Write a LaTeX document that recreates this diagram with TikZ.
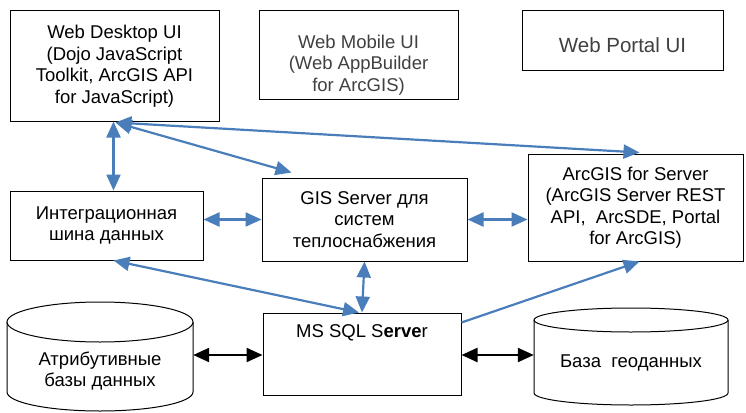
\documentclass[tikz,border=0pt]{standalone}
\usepackage{fontspec}
\setmainfont{Liberation Sans}
\usetikzlibrary{arrows.meta}
\definecolor{lineblue}{RGB}{74,126,187}
\definecolor{softtext}{RGB}{64,64,64}
\tikzset{
  box/.style={draw=black, line width=1pt, inner sep=0pt, align=center},
  txt/.style={inner sep=0pt, align=center},
  barr/.style={draw=lineblue, line width=2.2pt, {Triangle[length=16pt,width=14pt]}-{Triangle[length=16pt,width=14pt]}},
  barrone/.style={draw=lineblue, line width=2.2pt, -{Triangle[length=16pt,width=14pt]}},
  karr/.style={draw=black, line width=2.2pt, {Triangle[length=16pt,width=14pt]}-{Triangle[length=16pt,width=14pt]}},
  cyl/.style={draw=black, line width=1pt}
}
\begin{document}
\begin{tikzpicture}[x=1pt,y=1pt,font=\fontsize{18.5}{21.5}\selectfont]
\useasboundingbox (0,0) rectangle (746,-412);
% top row
\node[box, minimum width=209pt, minimum height=110pt] (desk) at (114.5,-66)
  {Web Desktop UI\\(Dojo JavaScript\\Toolkit, ArcGIS API\\for JavaScript)};
\node[box, minimum width=199pt, minimum height=88pt] (mob) at (358.5,-55) {};
\node[txt, text=softtext] (mobT) at (358.5,-65) {Web Mobile UI\\(Web AppBuilder\\for ArcGIS)};
\node[box, minimum width=201pt, minimum height=59pt] (port) at (622.5,-40.5) {};
\node[txt, text=softtext, font=\fontsize{20.5}{24}\selectfont] (portT) at (622.5,-45) {Web Portal UI};
% middle row
\node[box, minimum width=193pt, minimum height=69pt] (integ) at (106.5,-225.5)
  {Интеграционная\\шина данных};
\node[box, minimum width=205pt, minimum height=83pt] (gis) at (364.5,-219.5)
  {GIS Server для\\систем\\теплоснабжения};
\node[box, minimum width=215pt, minimum height=107pt] (arc) at (635.5,-207.5)
  {ArcGIS for Server\\(ArcGIS Server REST\\API,\ \ ArcSDE, Portal\\for ArcGIS)};
% bottom row
\node[box, minimum width=198pt, minimum height=82pt] (sql) at (362,-354) {};
\node[txt] (sqlT) at (362,-333) {MS SQL S\textbf{erve}r};
% left cylinder
\draw[cyl] (7,-322) -- (7,-392) arc[start angle=180, end angle=360, x radius=93, y radius=19] -- (193,-322);
\draw[cyl] (100,-322) ellipse[x radius=93, y radius=20];
\node[txt, minimum width=186pt, minimum height=60pt] (attr) at (100,-355) {};
\node[txt] (attrT) at (100,-371) {Атрибутивные\\базы данных};
% right cylinder
\draw[cyl] (534,-320) -- (534,-393) arc[start angle=180, end angle=360, x radius=97, y radius=12] -- (728,-320);
\draw[cyl] (631,-320) ellipse[x radius=97, y radius=12];
\node[txt, minimum width=194pt, minimum height=60pt] (geo) at (631,-355) {};
\node[txt] (geoT) at (631,-363) {База\ \ геоданных};
% blue connectors
\draw[barr] ([xshift=-1pt]desk.south) -- ([xshift=-1pt]desk.south |- integ.north);
\draw[barr] ([xshift=1pt,yshift=-1pt]desk.south) -- ([xshift=30pt,yshift=5pt]gis.north west);
\draw[barr] ([xshift=1pt,yshift=-1pt]desk.south) -- ([xshift=4pt,yshift=1pt]arc.north);
\draw[barr] (gis.west -| integ.east) -- (gis.west);
\draw[barr] (gis.east) -- (gis.east -| arc.west);
\draw[barr] ([xshift=7pt]integ.south) -- ([xshift=-3pt]sql.north);
\draw[barr] (gis.south) -- (sql.north);
\draw[barrone] ([yshift=-10pt]sql.north east) -- ([xshift=4pt]arc.south);
% black connectors
\draw[karr] (attr.east) -- (attr.east -| sql.west);
\draw[karr] (geo.west -| sql.east) -- (geo.west);
\end{tikzpicture}
\end{document}
